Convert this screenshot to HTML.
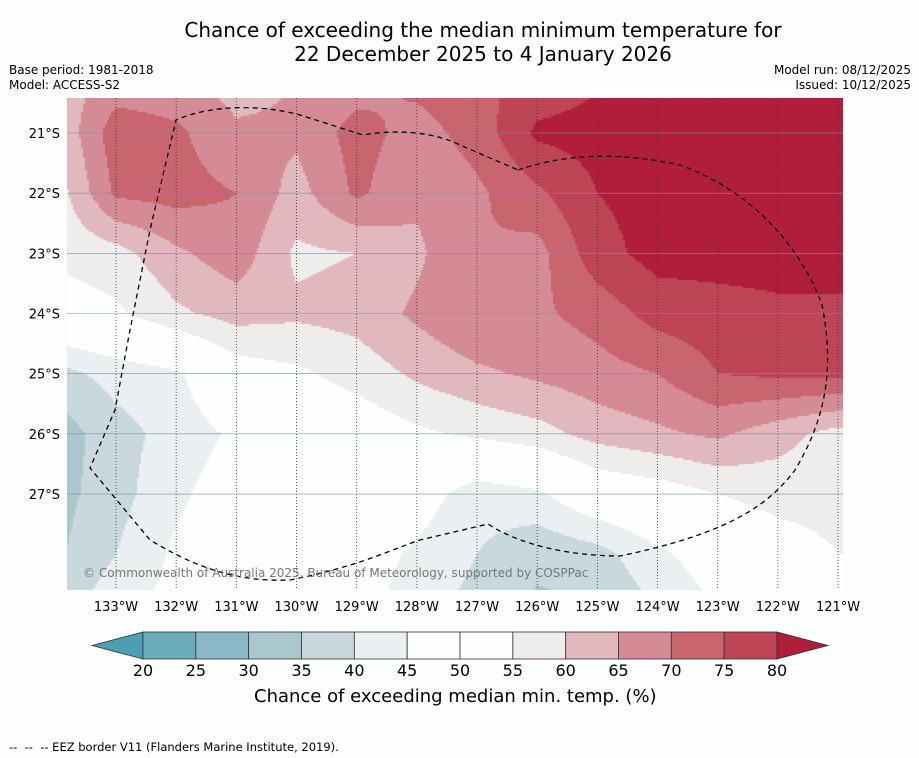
<!DOCTYPE html>
<html><head><meta charset="utf-8">
<style>
body{margin:0;background:#fcfdfd;font-family:"DejaVu Sans","Liberation Sans",sans-serif;}
#wrap{position:relative;width:919px;height:758px;overflow:hidden;background:#fcfdfd;}
.t{position:absolute;color:#000;white-space:nowrap;}
</style></head>
<body>
<div id="wrap">
<div class="t" style="left:0;width:966px;top:18px;text-align:center;font-size:20px;line-height:24px;">Chance of exceeding the median minimum temperature for<br>22 December 2025 to 4 January 2026</div>
<div class="t" style="left:9px;top:63px;font-size:12px;line-height:15px;">Base period: 1981-2018<br>Model: ACCESS-S2</div>
<div class="t" style="right:8px;top:63px;font-size:12px;line-height:15px;text-align:right;">Model run: 08/12/2025<br>Issued: 10/12/2025</div>
<canvas id="map" width="776" height="492" style="position:absolute;left:67px;top:98px;"></canvas>
<svg id="ov" width="919" height="758" style="position:absolute;left:0;top:0;"></svg>
<div class="t" style="left:83px;top:566px;font-size:12px;color:#777;">© Commonwealth of Australia 2025, Bureau of Meteorology, supported by COSPPac</div>
<div class="t" style="left:254px;top:686px;font-size:18px;">Chance of exceeding median min. temp. (%)</div>
<div class="t" style="left:9px;top:740px;font-size:11.5px;">--&nbsp;&nbsp;--&nbsp;&nbsp;-- EEZ border V11 (Flanders Marine Institute, 2019).</div>
</div>
<script>
const lons=[134,133,132,131,130,129,128,127,126,125,124,123,122,121];
const lats=[20,21,22,23,24,25,26,27,28,29];
const values=[
[62,66,66,62,65,67,72,74,76,79,82,82,82,82],
[60,73,71,66,66,72,68,72,81,82,83,84,84,84],
[57,71,72,70,63,71,66,69,74,80,82,84,85,85],
[56,58,64,68,59,60,64,70,68,78,82,82,82,82],
[52,54,59,62,61,62,66,70,69,72,77,78,79,79],
[38,42,44,52,54,57,61,64,66,68,70,75,76,76],
[32,38,42,46,50,51,54,56,58,62,64,66,62,58],
[33,38,44,48,50,50,48,42,44,50,52,55,57,57],
[34,40,46,48,50,48,44,40,36,38,44,48,52,55],
[38,44,47,48,48,47,42,38,34,34,40,45,48,50]];
const levels=[20,25,30,35,40,45,50,55,60,65,70,75,80];
const colors=["#4aa0b2","#6aaebd","#8bbac6","#a9c7cd","#c9d8dd","#eaeff1","#fdfefe","#fdfefe","#efedec","#e0b8bd","#d48b95","#c8656f","#bd4555","#b01e3a"];
const lonTicks=[133,132,131,130,129,128,127,126,125,124,123,122,121];
const latTicks=[21,22,23,24,25,26,27];
const xOf=lon=>116+(133-lon)*60.17;
const yOf=lat=>133+(lat-21)*60.17;
function colorFor(v){let i=0;while(i<levels.length&&v>=levels[i])i++;return colors[i];}
function valAt(lon,lat){
  let fi=(lons[0]-lon),fj=(lat-lats[0]);
  fi=Math.max(0,Math.min(lons.length-1.001,fi));fj=Math.max(0,Math.min(lats.length-1.001,fj));
  const i=Math.floor(fi),j=Math.floor(fj),a=fi-i,b=fj-j;
  return values[j][i]*(1-a)*(1-b)+values[j][i+1]*a*(1-b)+values[j+1][i]*(1-a)*b+values[j+1][i+1]*a*b;
}
const cv=document.getElementById('map'),ctx=cv.getContext('2d');
const S=2;
for(let py=0;py<492;py+=S)for(let px=0;px<776;px+=S){
  const X=67+px+S/2,Y=98+py+S/2;
  const lon=133-(X-116)/60.17,lat=21+(Y-133)/60.17;
  ctx.fillStyle=colorFor(valAt(lon,lat));ctx.fillRect(px,py,S,S);
}
const NS="http://www.w3.org/2000/svg",ov=document.getElementById('ov');
function mk(tag,attrs){const e=document.createElementNS(NS,tag);for(const k in attrs)e.setAttribute(k,attrs[k]);ov.appendChild(e);return e;}
lonTicks.forEach(l=>{const x=xOf(l);
  const g=mk('line',{x1:x,y1:98,x2:x,y2:590,stroke:'#333','stroke-width':0.8,'stroke-dasharray':'1,2'});
  
  const t=mk('text',{x:x,y:611,'font-size':13,'text-anchor':'middle','font-family':'DejaVu Sans, Liberation Sans, sans-serif'});t.textContent=l+'°W';
  });
latTicks.forEach(l=>{const y=yOf(l);
  const g=mk('line',{x1:67,y1:y,x2:843,y2:y,stroke:'#6f93a8','stroke-width':0.6});
  
  const t=mk('text',{x:60,y:y+5,'font-size':13,'text-anchor':'end','font-family':'DejaVu Sans, Liberation Sans, sans-serif'});t.textContent=l+'°S';
  });
const eez=mk('path',{d:'M518,170 C560,156 610,150 680,165 C750,190 800,245 822,305 C835,370 825,420 795,470 C765,510 720,535 620,556 C570,556 520,545 488,524 L420,540 C390,550 360,566 290,580 C240,582 200,570 150,540 L90,468 L115,410 L130,330 L150,230 L176,120 C210,105 260,104 300,115 L363,135 C390,130 430,130 460,145 L518,170',fill:'none',stroke:'#000','stroke-width':1.3,'stroke-dasharray':'5,4'});

const cbX=143,cbW=(777-143)/12,cbY=632,cbH=27;
const l0=mk('polygon',{points:`${cbX},${cbY} ${cbX},${cbY+cbH} 92,${cbY+cbH/2}`,fill:colors[0],stroke:'#333','stroke-width':0.8});

for(let i=0;i<12;i++){const r=mk('rect',{x:cbX+i*cbW,y:cbY,width:cbW,height:cbH,fill:colors[i+1],stroke:'#333','stroke-width':0.8});
  }
const h0=mk('polygon',{points:`777,${cbY} 777,${cbY+cbH} 828,${cbY+cbH/2}`,fill:colors[13],stroke:'#333','stroke-width':0.8});

levels.forEach((v,i)=>{const t=mk('text',{x:cbX+i*cbW,y:676,'font-size':16,'text-anchor':'middle','font-family':'DejaVu Sans, Liberation Sans, sans-serif'});t.textContent=v;
  });
</script>
</body></html>
